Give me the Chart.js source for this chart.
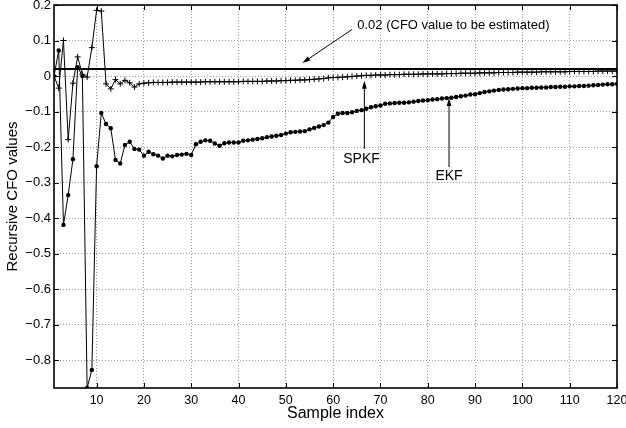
<!DOCTYPE html>
<html>
<head>
<meta charset="utf-8">
<script src="https://cdn.jsdelivr.net/npm/chart.js@4.4.1/dist/chart.umd.min.js"></script>
<style>
  body { margin: 0; background: #fff; }
</style>
</head>
<body>
<canvas id="cfoChart" width="626" height="428"></canvas>
<script>
// recursive CFO estimates per sample
const spkf = [
  0.000, -0.034, 0.100, -0.179, -0.020, 0.054, 0.005, -0.003, 0.080, 0.185,
  0.183, -0.022, -0.036, -0.010, -0.022, -0.012, -0.019, -0.031, -0.022, -0.020,
  -0.019, -0.018, -0.018, -0.018, -0.018, -0.017, -0.017, -0.017, -0.017, -0.017,
  -0.017, -0.017, -0.016, -0.016, -0.016, -0.016, -0.016, -0.016, -0.016, -0.016,
  -0.015, -0.015, -0.015, -0.015, -0.015, -0.014, -0.014, -0.014, -0.013, -0.013,
  -0.012, -0.012, -0.011, -0.011, -0.010, -0.009, -0.008, -0.007, -0.005, -0.004,
  -0.004, -0.003, -0.002, -0.001, 0.000, 0.001, 0.002, 0.002, 0.003, 0.003,
  0.003, 0.004, 0.004, 0.004, 0.005, 0.005, 0.005, 0.005, 0.006, 0.006,
  0.006, 0.006, 0.006, 0.007, 0.007, 0.007, 0.008, 0.008, 0.008, 0.008,
  0.009, 0.009, 0.009, 0.009, 0.010, 0.010, 0.010, 0.010, 0.011, 0.011,
  0.011, 0.011, 0.011, 0.012, 0.012, 0.012, 0.012, 0.012, 0.012, 0.013,
  0.013, 0.013, 0.013, 0.013, 0.013, 0.014, 0.014, 0.014, 0.014, 0.014
];

const ekf = [
  0.000, 0.072, -0.419, -0.335, -0.234, 0.025, 0.000, -0.878, -0.827, -0.254,
  -0.104, -0.135, -0.147, -0.236, -0.246, -0.194, -0.185, -0.205, -0.207, -0.224,
  -0.213, -0.220, -0.224, -0.232, -0.224, -0.226, -0.222, -0.221, -0.219, -0.222,
  -0.192, -0.185, -0.181, -0.182, -0.190, -0.196, -0.189, -0.187, -0.187, -0.187,
  -0.182, -0.181, -0.179, -0.177, -0.175, -0.172, -0.170, -0.168, -0.166, -0.162,
  -0.158, -0.157, -0.156, -0.155, -0.150, -0.146, -0.142, -0.138, -0.131, -0.115,
  -0.106, -0.104, -0.104, -0.102, -0.098, -0.096, -0.092, -0.088, -0.085, -0.083,
  -0.078, -0.077, -0.076, -0.075, -0.075, -0.074, -0.072, -0.070, -0.069, -0.068,
  -0.066, -0.065, -0.063, -0.062, -0.061, -0.059, -0.057, -0.055, -0.052, -0.051,
  -0.048, -0.045, -0.043, -0.041, -0.039, -0.038, -0.037, -0.036, -0.035, -0.034,
  -0.034, -0.033, -0.033, -0.032, -0.032, -0.031, -0.031, -0.030, -0.030, -0.029,
  -0.029, -0.028, -0.028, -0.027, -0.026, -0.025, -0.024, -0.023, -0.023, -0.022
];

const trueCfo = 0.02;
const xTicks = [10, 20, 30, 40, 50, 60, 70, 80, 90, 100, 110, 120];
const yTicks = [-0.8, -0.7, -0.6, -0.5, -0.4, -0.3, -0.2, -0.1, 0, 0.1, 0.2];

const FONT = '"Liberation Sans", Arial, Helvetica, sans-serif';

const toPoints = arr => arr.map((v, i) => ({ x: i + 1, y: v }));

// arrow with a filled head, from (x1,y1) to (x2,y2) in pixels
const drawArrow = (ctx, x1, y1, x2, y2) => {
  const ang = Math.atan2(y2 - y1, x2 - x1);
  const len = 8, half = 2.4;
  ctx.beginPath();
  ctx.moveTo(x1, y1);
  ctx.lineTo(x2 - Math.cos(ang) * len * 0.8, y2 - Math.sin(ang) * len * 0.8);
  ctx.stroke();
  ctx.beginPath();
  ctx.moveTo(x2, y2);
  ctx.lineTo(x2 - Math.cos(ang) * len + Math.sin(ang) * half, y2 - Math.sin(ang) * len - Math.cos(ang) * half);
  ctx.lineTo(x2 - Math.cos(ang) * len - Math.sin(ang) * half, y2 - Math.sin(ang) * len + Math.cos(ang) * half);
  ctx.closePath();
  ctx.fill();
};

// text + arrow notes, positioned in data units
const notes = {
  id: 'notes',
  afterDatasetsDraw(chart) {
    const { ctx, scales: { x, y } } = chart;
    const px = v => x.getPixelForValue(v);
    const py = v => y.getPixelForValue(v);
    ctx.save();
    ctx.strokeStyle = '#000';
    ctx.fillStyle = '#000';
    ctx.lineWidth = 1;

    drawArrow(ctx, px(64.0), py(0.131), px(53.5), py(0.037));
    drawArrow(ctx, px(66.6), py(-0.205), px(66.6), py(-0.013));
    drawArrow(ctx, px(84.5), py(-0.256), px(84.5), py(-0.062));

    ctx.font = '13px ' + FONT;
    ctx.textBaseline = 'middle';
    ctx.textAlign = 'left';
    ctx.fillText('0.02 (CFO value to be estimated)', px(65.1), py(0.142));

    ctx.font = '14px ' + FONT;
    ctx.textAlign = 'center';
    ctx.fillText('SPKF', px(66.0), py(-0.234));
    ctx.fillText('EKF', px(84.5), py(-0.282));
    ctx.restore();
  }
};

// box around the axes with inward tick marks on every side
const frame = {
  id: 'frame',
  afterDraw(chart) {
    const { ctx, chartArea: a, scales: { x, y } } = chart;
    ctx.save();
    ctx.strokeStyle = '#000';
    ctx.lineWidth = 1;
    ctx.beginPath();
    x.ticks.forEach(t => {
      const p = Math.round(x.getPixelForValue(t.value)) + 0.5;
      ctx.moveTo(p, a.bottom); ctx.lineTo(p, a.bottom - 5);
      ctx.moveTo(p, a.top); ctx.lineTo(p, a.top + 5);
    });
    y.ticks.forEach(t => {
      const p = Math.round(y.getPixelForValue(t.value)) + 0.5;
      ctx.moveTo(a.left, p); ctx.lineTo(a.left + 5, p);
      ctx.moveTo(a.right, p); ctx.lineTo(a.right - 5, p);
    });
    ctx.stroke();
    ctx.lineWidth = 1.6;
    ctx.strokeRect(a.left, a.top, a.right - a.left, a.bottom - a.top);
    ctx.restore();
  }
};

var ctx = document.getElementById('cfoChart').getContext('2d');

var myChart = new Chart(ctx, {
  type: 'line',
  data: {
    datasets: [
      {
        label: 'CFO',
        data: [{ x: 1, y: trueCfo }, { x: 120, y: trueCfo }],
        borderColor: '#000',
        borderWidth: 2,
        pointRadius: 0
      },
      {
        label: 'SPKF',
        data: toPoints(spkf),
        borderColor: '#000',
        borderWidth: 1,
        pointStyle: 'cross',
        pointRadius: 3,
        pointBorderWidth: 1,
        pointBorderColor: '#000'
      },
      {
        label: 'EKF',
        data: toPoints(ekf),
        borderColor: '#000',
        borderWidth: 1,
        pointStyle: 'circle',
        pointRadius: 2.2,
        pointBorderWidth: 0,
        pointBackgroundColor: '#000'
      }
    ]
  },
  options: {
    responsive: false,
    animation: false,
    events: [],
    layout: { padding: { left: 0, right: 9, top: 5, bottom: 2 } },
    plugins: {
      legend: { display: false },
      tooltip: { enabled: false }
    },
    scales: {
      x: {
        type: 'linear',
        min: 1,
        max: 120,
        afterBuildTicks: s => { s.ticks = xTicks.map(v => ({ value: v })); },
        afterFit: s => { s.height = 38; s.paddingLeft = 0; s.paddingRight = 0; },
        grid: { color: '#9a9a9a', lineWidth: 1, drawTicks: false },
        border: { display: false, dash: [1, 2] },
        ticks: {
          padding: 5,
          maxRotation: 0,
          autoSkip: false,
          color: '#000',
          font: { family: FONT, size: 12.5 }
        },
        title: {
          display: true,
          text: 'Sample index',
          color: '#000',
          font: { family: FONT, size: 16 },
          padding: { top: 0, bottom: 3 }
        }
      },
      y: {
        type: 'linear',
        min: -0.878,
        max: 0.2,
        afterBuildTicks: s => { s.ticks = yTicks.map(v => ({ value: v })); },
        afterFit: s => { s.width = 54; s.paddingTop = 0; s.paddingBottom = 0; },
        grid: { color: '#9a9a9a', lineWidth: 1, drawTicks: false },
        border: { display: false, dash: [1, 2] },
        ticks: {
          padding: 3,
          autoSkip: false,
          color: '#000',
          font: { family: FONT, size: 13 },
          callback: v => v === 0 ? '0' : (v < 0 ? '\u2212' : '') + Math.abs(v).toFixed(1)
        },
        title: {
          display: true,
          text: 'Recursive CFO values',
          color: '#000',
          font: { family: FONT, size: 15 },
          padding: { top: 4, bottom: 0 }
        }
      }
    }
  },
  plugins: [notes, frame]
});
</script>
</body>
</html>
